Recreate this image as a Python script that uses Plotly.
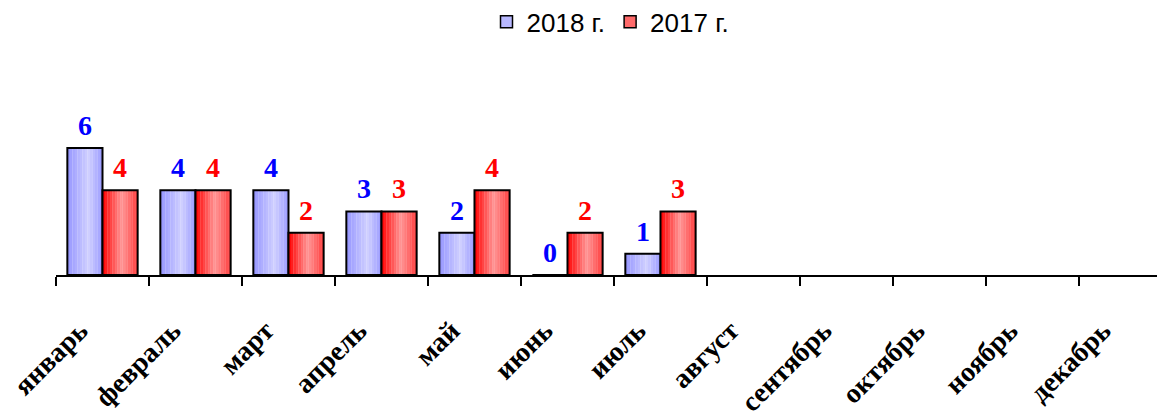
import plotly.graph_objects as go

months = ["январь", "февраль", "март", "апрель", "май", "июнь", "июль",
          "август", "сентябрь", "октябрь", "ноябрь", "декабрь"]
vals_2018 = [6, 4, 4, 3, 2, 0, 1]
vals_2017 = [4, 4, 2, 3, 4, 2, 3]
series_names = ["2018 г.", "2017 г."]

BW = 0.378  # bar width in category units
N = 14      # gradient strips
XR = [-0.5, 11.425]

def lerp(c1, c2, t):
    return tuple(int(round(a + (b - a) * t)) for a, b in zip(c1, c2))

def grad(stops, t):
    for (p1, c1), (p2, c2) in zip(stops, stops[1:]):
        if p1 <= t <= p2:
            return lerp(c1, c2, (t - p1) / (p2 - p1) if p2 > p1 else 0)
    return stops[-1][1]

blue_stops = [(0.0, (150, 150, 255)), (0.6, (208, 208, 255)), (1.0, (155, 155, 255))]
red_stops = [(0.0, (255, 0, 0)), (0.55, (255, 150, 150)), (1.0, (255, 60, 60))]

fig = go.Figure()
x_cats = months[:len(vals_2018)]

for vals, off, stops, name, lblcol, legcol in [
    (vals_2018, -BW, blue_stops, series_names[0], "#0000FF", "#B8B8FF"),
    (vals_2017, 0.0, red_stops, series_names[1], "#FF0000", "#FF6A6A"),
]:
    for k in range(N):
        t = (k + 0.5) / N
        c = grad(stops, t)
        fig.add_trace(go.Bar(
            x=x_cats, y=vals, offset=off + BW * k / N, width=BW / N * 1.08,
            marker=dict(color="rgb(%d,%d,%d)" % c, line=dict(width=0)),
            showlegend=False, hoverinfo="skip"))
    fig.add_trace(go.Bar(
        x=x_cats, y=vals, offset=off, width=BW, name=name,
        marker=dict(color="rgba(0,0,0,0)", line=dict(color="black", width=2)),
        showlegend=False))
    # value labels (on overlaid linear axis, at bar centres)
    fig.add_trace(go.Scatter(
        x=[i + off + BW / 2 for i in range(len(vals))], y=vals, xaxis="x2",
        mode="markers+text", text=[str(v) for v in vals], textposition="top center",
        marker=dict(size=8, opacity=0),
        textfont=dict(family="Liberation Serif", size=28, color=lblcol, weight="bold"),
        cliponaxis=False, showlegend=False, hoverinfo="skip"))
    # legend entry
    fig.add_trace(go.Bar(
        x=[months[0]], y=[None], name=name,
        marker=dict(color=legcol, line=dict(color="black", width=1.5)),
        showlegend=True))

fig.update_layout(
    width=1157, height=409,
    margin=dict(l=48, r=0, t=77, b=142, autoexpand=False),
    barmode="overlay",
    plot_bgcolor="white", paper_bgcolor="white",
    legend=dict(orientation="h", x=0.5, xanchor="center", y=0.966, yref="container",
                yanchor="middle",
                font=dict(family="Liberation Sans", size=26, color="black"),
                itemwidth=30, traceorder="normal"),
    xaxis=dict(categoryorder="array", categoryarray=months, automargin=False,
               range=XR, showline=True, linecolor="black", linewidth=2,
               ticks="outside", tickson="boundaries", ticklen=9, tickwidth=1.5,
               tickcolor="black", tickangle=-45, ticklabelstandoff=26, ticklabelshift=-23,
               tickfont=dict(family="Liberation Serif", size=28, color="black", weight="bold"),
               showgrid=False, zeroline=False),
    xaxis2=dict(overlaying="x", range=XR, visible=False, showgrid=False, zeroline=False),
    yaxis=dict(range=[0, 8.975], visible=False, showgrid=False, zeroline=False),
)

fig.write_html("out.html")
